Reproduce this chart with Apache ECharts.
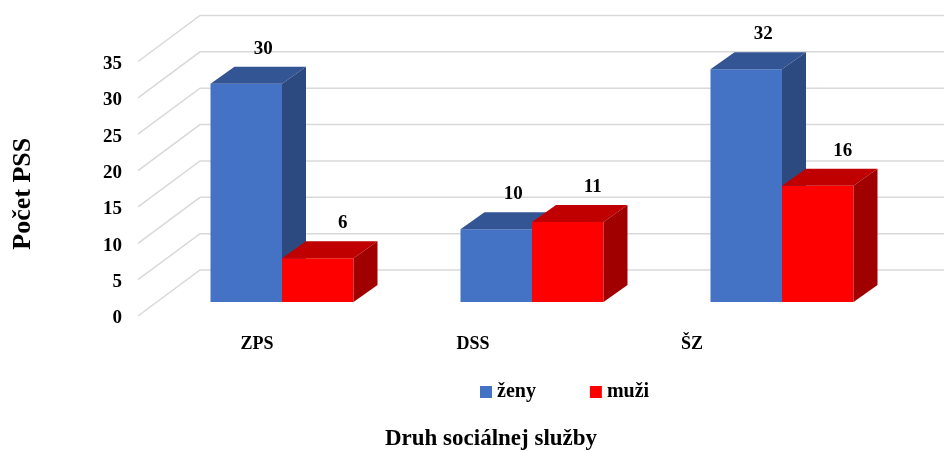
<!DOCTYPE html>
<html>
<head>
<meta charset="utf-8">
<script src="https://cdn.jsdelivr.net/npm/echarts@6/dist/echarts.min.js"></script>
<style>
html,body{margin:0;padding:0;background:#fff;}
#chart{width:944px;height:451px;}
</style>
</head>
<body>
<div id="chart"></div>
<script>
const categories = ['ZPS', 'DSS', 'ŠZ'];
const zeny = [30, 10, 32];
const muzi = [6, 11, 16];
const yTicks = [0, 5, 10, 15, 20, 25, 30, 35];
const catLabelShift = [50, 118, 180];

const FONT = '"Liberation Serif", "Times New Roman", serif';
const DX = 24, DY = -17;

const chart = echarts.init(document.getElementById('chart'));

function barRenderer(side, cFront, cTop, cSide, labelDx) {
  return function (params, api) {
    const cat = api.value(0), v = api.value(1);
    const base = api.coord([cat, 0]);
    const top = api.coord([cat, v]);
    const band = api.size([1, 0])[0];
    const w = band * 0.286;
    const x0 = side === 'left' ? base[0] - w : base[0];
    const x1 = x0 + w;
    const yb = base[1], yt = top[1];
    return {
      type: 'group',
      children: [
        { type: 'polygon', shape: { points: [[x0, yb], [x1, yb], [x1, yt], [x0, yt]] }, style: { fill: cFront } },
        { type: 'polygon', shape: { points: [[x0, yt], [x1, yt], [x1 + DX, yt + DY], [x0 + DX, yt + DY]] }, style: { fill: cTop } },
        { type: 'polygon', shape: { points: [[x1, yb], [x1 + DX, yb + DY], [x1 + DX, yt + DY], [x1, yt]] }, style: { fill: cSide } },
        { type: 'text', style: { text: String(v), x: x0 + w / 2 + labelDx, y: yt - 35, align: 'center', verticalAlign: 'middle', font: 'bold 19px ' + FONT, fill: '#000' } }
      ]
    };
  };
}

const option = {
  backgroundColor: '#fff',
  animation: false,
  grid: { left: 157, width: 750, top: 47.5, bottom: 149, containLabel: false, outerBoundsMode: 'none' },
  xAxis: {
    type: 'category',
    data: categories.map((c, i) => ({ value: c, textStyle: { padding: [0, catLabelShift[i], 0, 0] } })),
    axisLine: { show: false },
    axisTick: { show: false },
    axisLabel: { fontFamily: FONT, fontWeight: 'bold', fontSize: 18, color: '#000', margin: 33 },
    name: 'Druh sociálnej služby',
    nameLocation: 'middle',
    nameGap: 126,
    nameTextStyle: { fontFamily: FONT, fontWeight: 'bold', fontSize: 23, color: '#000', padding: [0, 82, 0, 0] }
  },
  yAxis: {
    type: 'value',
    min: 0, max: 35, interval: 5,
    axisLine: { show: false },
    axisTick: { show: false },
    splitLine: { show: false },
    axisLabel: { fontFamily: FONT, fontWeight: 'bold', fontSize: 19, color: '#000', margin: 35, verticalAlign: 'top', lineHeight: 33 },
    name: 'Počet PSS',
    nameLocation: 'middle',
    nameRotate: 90,
    nameGap: 121,
    nameTextStyle: { fontFamily: FONT, fontWeight: 'bold', fontSize: 26, color: '#000', padding: [0, 38, 0, 0] }
  },
  legend: {
    data: ['ženy', 'muži'],
    left: 475, top: 377,
    icon: 'rect',
    itemWidth: 12, itemHeight: 12,
    itemGap: 54,
    textStyle: { fontFamily: FONT, fontWeight: 'bold', fontSize: 20, color: '#000' }
  },
  series: [
    {
      type: 'custom',
      name: 'grid',
      silent: true,
      clip: false,
      z: 1,
      data: yTicks.map(v => [0, v]),
      renderItem: function (params, api) {
        const p = api.coord([0, api.value(1)]);
        const gx = params.coordSys.x;
        const y = p[1];
        return {
          type: 'polyline',
          shape: { points: [[gx - 19, y + 14], [gx + 43, y - 32], [api.getWidth(), y - 32]] },
          style: { stroke: '#d9d9d9', lineWidth: 1.5, fill: null }
        };
      }
    },
    {
      type: 'custom', name: 'ženy', clip: false, z: 2,
      itemStyle: { color: '#4472C4' },
      data: zeny.map((v, i) => [i, v]),
      renderItem: barRenderer('left', '#4472C4', '#335593', '#2C4A80', 17)
    },
    {
      type: 'custom', name: 'muži', clip: false, z: 3,
      itemStyle: { color: '#FF0000' },
      data: muzi.map((v, i) => [i, v]),
      renderItem: barRenderer('right', '#FF0000', '#C00000', '#A00000', 25)
    }
  ]
};
chart.setOption(option);
</script>
</body>
</html>
